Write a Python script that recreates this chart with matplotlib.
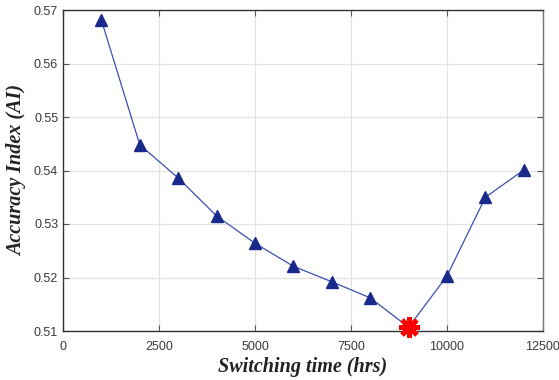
#!/usr/bin/env python3
# Accuracy index vs. switching time, MATLAB-style line plot

import matplotlib
matplotlib.use("Agg")
import matplotlib.pyplot as plt

# Data
switch_hrs = [1000, 2000, 3000, 4000, 5000, 6000, 7000, 8000, 9000, 10000, 11000, 12000]
accuracy = [0.5681, 0.5448, 0.5386, 0.5315, 0.5264, 0.5221, 0.5192, 0.5162, 0.5107,
            0.5203, 0.5350, 0.5401]
best_hrs = 9000
best_acc = 0.5107

x_ticks = [0, 2500, 5000, 7500, 10000, 12500]
y_ticks = [0.51, 0.52, 0.53, 0.54, 0.55, 0.56, 0.57]

plt.rcParams["font.family"] = ["Liberation Sans", "DejaVu Sans"]

fig = plt.figure(figsize=(5.59, 3.8), dpi=100)
ax = fig.add_axes([63 / 559, 1 - 331 / 380, 480 / 559, 321 / 380])

line_color = "#3a4fb0"
marker_color = "#1a2a8c"

tri_x = [x for x in switch_hrs if x != best_hrs]
tri_y = [y for x, y in zip(switch_hrs, accuracy) if x != best_hrs]

ax.plot(switch_hrs, accuracy, color=line_color, linewidth=0.9, zorder=3)
ax.plot(tri_x, tri_y, linestyle="none", marker="^", markersize=8,
        color=marker_color, zorder=4, clip_on=False)
# best point: MATLAB-like '*' asterisk
ax.plot(best_hrs, best_acc, linestyle="none", marker=(8, 2, 0), markersize=15,
        markeredgewidth=3.5, color="red", zorder=5, clip_on=False)

ax.set_xlim(0, 12500)
ax.set_ylim(0.51, 0.57)
ax.set_xticks(x_ticks)
ax.set_yticks(y_ticks)
ax.set_xticklabels([str(t) for t in x_ticks])
ax.set_yticklabels([f"{t:.2f}" for t in y_ticks])

ax.grid(True, color="#e3e3e3", linewidth=0.9)
ax.set_axisbelow(True)
ax.tick_params(direction="in", length=4, width=0.8, top=True, right=True,
               labelsize=9, labelcolor="#3a3a3a", color="#555555")
ax.tick_params(axis="x", pad=7)
for side in ["left", "bottom", "top"]:
    ax.spines[side].set_color("#333333")
ax.spines["right"].set_color("#777777")
for sp in ax.spines.values():
    sp.set_linewidth(1.0)

label_font = dict(family=["Liberation Serif", "DejaVu Serif"], style="italic",
                  weight="bold", size=14.5, color="#222222")
ax.set_xlabel("Switching time (hrs)", labelpad=3, **label_font)
ax.set_ylabel("Accuracy Index (AI)", labelpad=5, **label_font)

fig.savefig("out.png", dpi=100)
